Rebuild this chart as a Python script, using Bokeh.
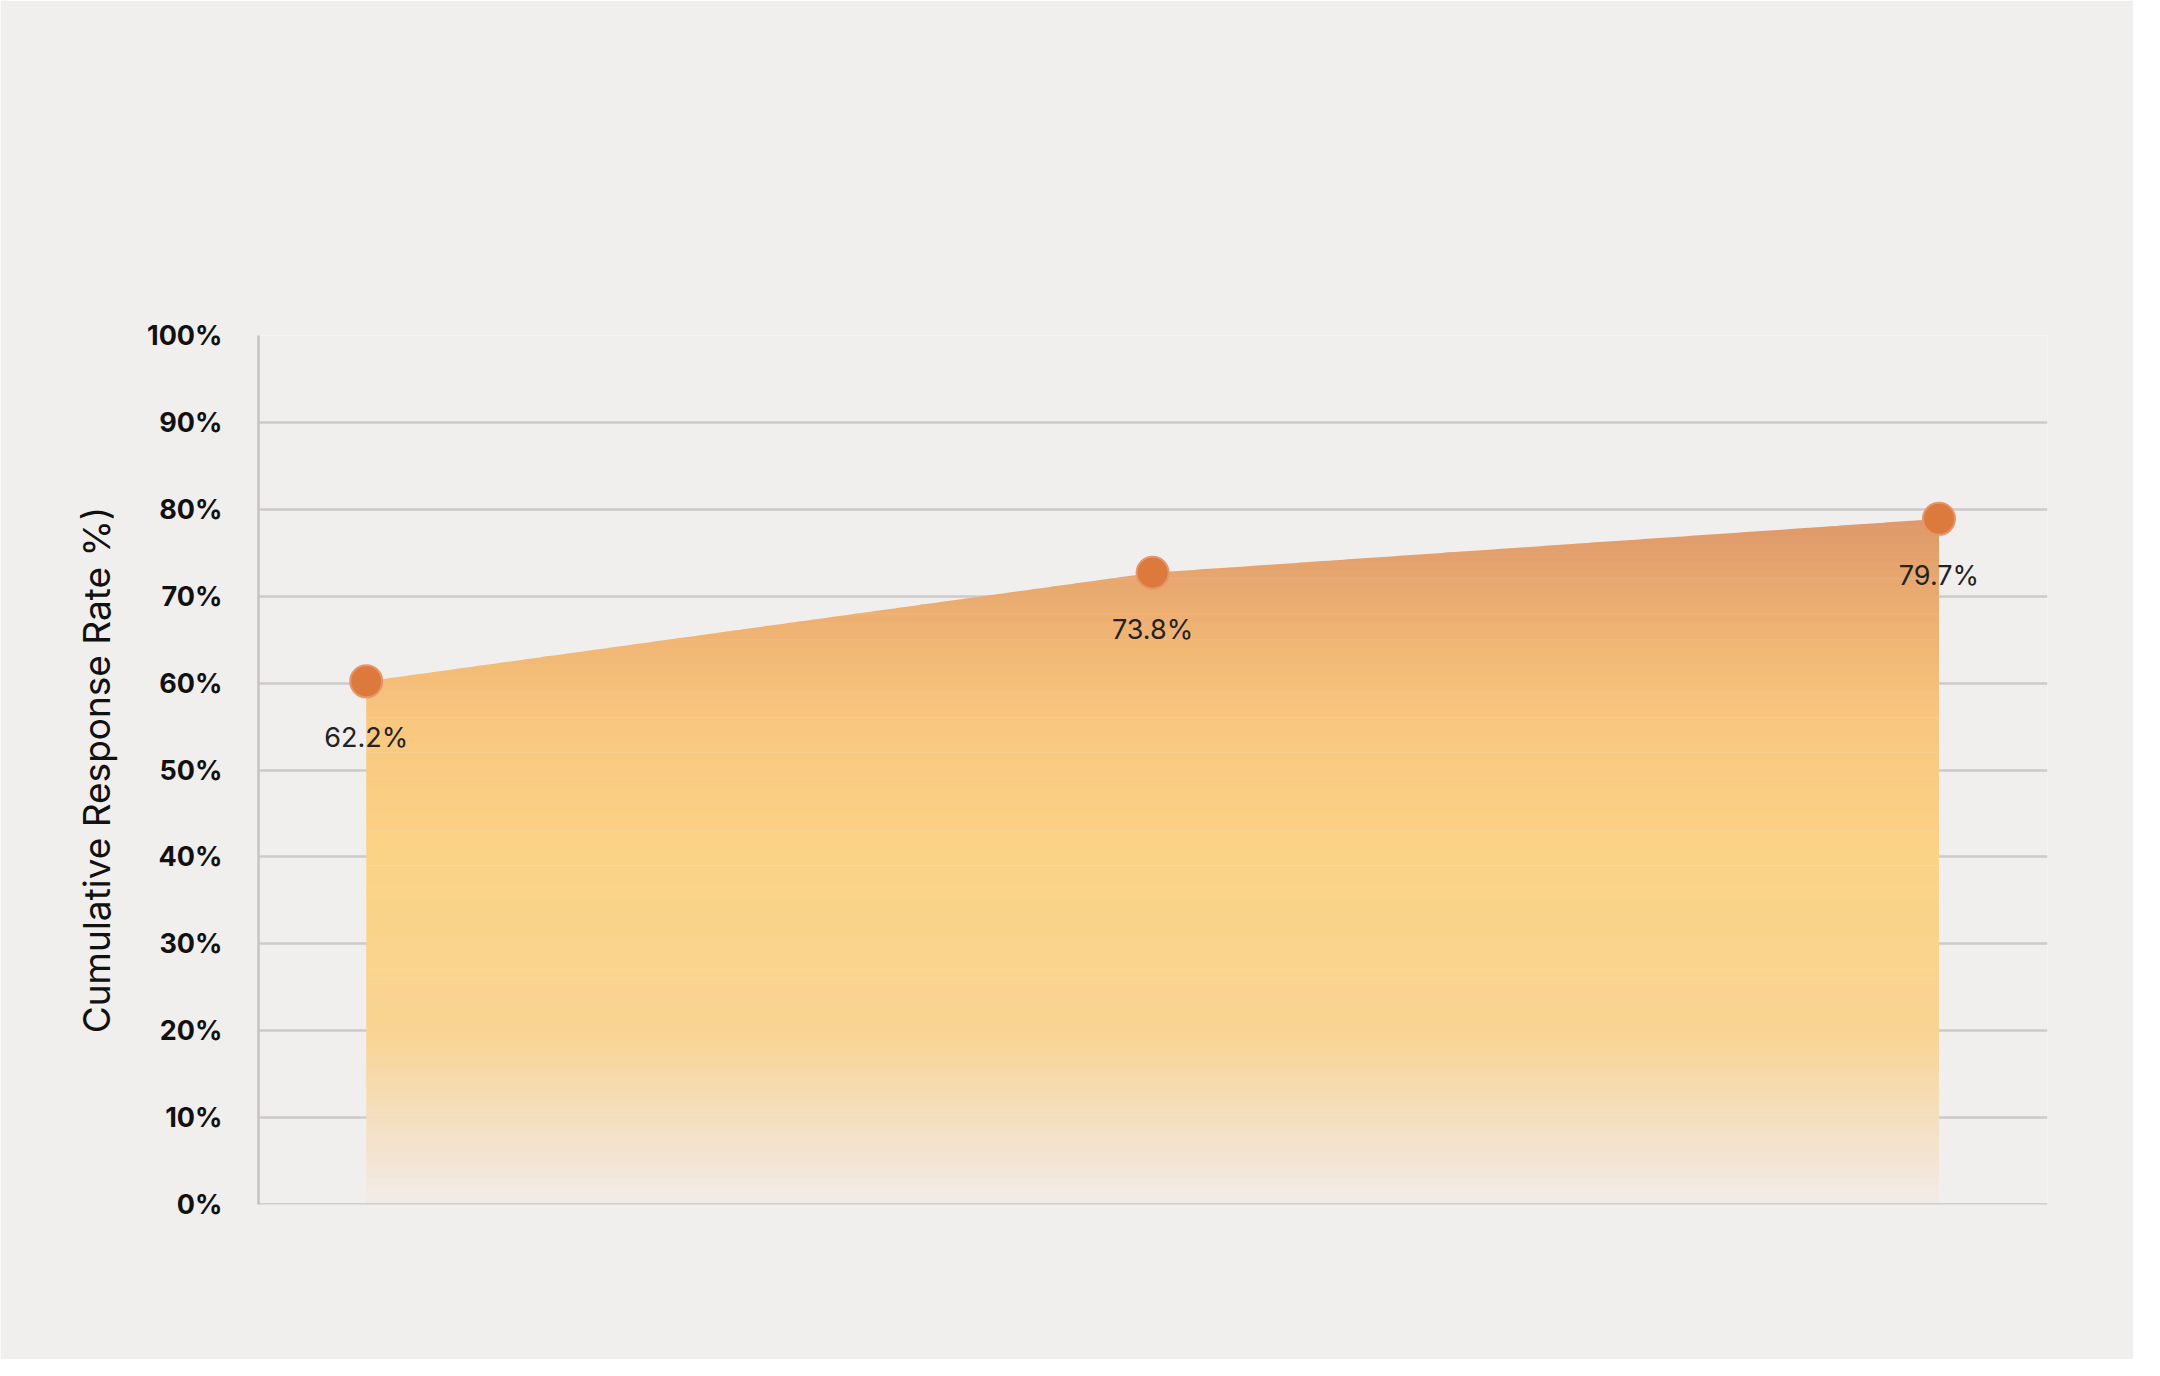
import numpy as np
from bokeh.plotting import figure
from bokeh.models import Range1d, Label, FixedTicker, ColumnDataSource, CustomJSTickFormatter
from bokeh.core.properties import value
from bokeh.embed import file_html
from bokeh.resources import INLINE

categories = ["Post Session 2", "Post Session 4", "Post Session 6"]
plotted = [60.2, 72.7, 78.9]
label_text = ["62.2%", "73.8%", "79.7%"]
y_ticks = [0, 10, 20, 30, 40, 50, 60, 70, 80, 90, 100]

BG = "#f1eeee"
W, H = 2133, 1359
p = figure(width=W, height=H, output_backend="svg", toolbar_location=None,
           x_range=Range1d(-0.137, 2.138), y_range=Range1d(0, 100),
           min_border_left=258, min_border_right=86, min_border_top=335, min_border_bottom=155,
           background_fill_color=BG, border_fill_color=BG, outline_line_color=None)

xs = np.arange(len(categories), dtype=float)
xd = np.linspace(0, 2, 400)
yd = np.interp(xd, xs, plotted)

stops_y = [0, 8, 20, 40, 55, 65, 80]
stops_c = ["#f1ece9", "#f4e1c8", "#f9d391", "#fbd387", "#f9c880", "#f0b574", "#dd9669"]
def hx(c): return np.array([int(c[i:i+2], 16) for i in (1, 3, 5)], float)
cols = np.array([hx(c) for c in stops_c])
for a in np.arange(0, 80, 1.0):
    mid = a + 0.5
    rgb = [np.interp(mid, stops_y, cols[:, k]) for k in range(3)]
    color = "#%02x%02x%02x" % tuple(int(round(v)) for v in rgb)
    y1 = np.minimum(a, yd)
    y2 = np.minimum(a + 1.05, yd)
    p.varea(x=xd, y1=y1, y2=y2, fill_color=color)

p.scatter(xs, plotted, size=32, fill_color="#dc7a3e", line_color="#e8956a", line_width=2)
src = ColumnDataSource(dict(x=xs, y=plotted, t=label_text))
p.text("x", "y", text="t", source=src, text_align="center", text_baseline="top", y_offset=40,
       text_font=value("Inter"), text_font_size="27px", text_color="#222222")

xl = ColumnDataSource(dict(x=xs, y=[0]*3, t=categories, al=["left", "center", "right"], xo=[-107, 0, 107]))
p.text("x", "y", text="t", source=xl, text_align="al", x_offset="xo", y_offset=50, text_baseline="top",
       text_font=value("Inter"), text_font_size="29px", text_font_style="bold", text_color="#111111")

p.xaxis.visible = False
p.xgrid.visible = False
p.ygrid.ticker = FixedTicker(ticks=y_ticks)
p.ygrid.grid_line_color = "#cfcaca"
p.ygrid.grid_line_width = 2.5
p.yaxis.ticker = FixedTicker(ticks=y_ticks)
p.yaxis.formatter = CustomJSTickFormatter(code="return tick + '%';")
p.yaxis.axis_line_color = "#c8c3c3"
p.yaxis.axis_line_width = 2.5
p.yaxis.major_tick_line_color = None
p.yaxis.minor_tick_line_color = None
p.yaxis.major_label_text_font = "Inter"
p.yaxis.major_label_text_font_size = "27px"
p.yaxis.major_label_text_font_style = "bold"
p.yaxis.major_label_text_color = "#111111"
p.yaxis.major_label_standoff = 30
p.yaxis.axis_label = "Cumulative Response Rate %)"
p.yaxis.axis_label_text_font = "Inter"
p.yaxis.axis_label_text_font_size = "37px"
p.yaxis.axis_label_text_font_style = "normal"
p.yaxis.axis_label_text_color = "#111111"
p.yaxis.axis_label_standoff = 25

p.line([-0.137, 2.138], [0, 0], line_color="#c8c3c3", line_width=2.5)

p.add_layout(Label(x=79, y=H - 140, x_units="screen", y_units="screen", text="Treatment Response Trajectory",
                   text_font="Inter", text_font_size="70px", text_color="#111111"))
p.add_layout(Label(x=80, y=H - 225, x_units="screen", y_units="screen",
                   text="% of patients who achieve response (≥10-pt PCL-5 reduction) across sessions",
                   text_font="Inter", text_font_size="38px", text_color="#8a8383"))

open("out.html", "w").write(file_html(p, INLINE))
